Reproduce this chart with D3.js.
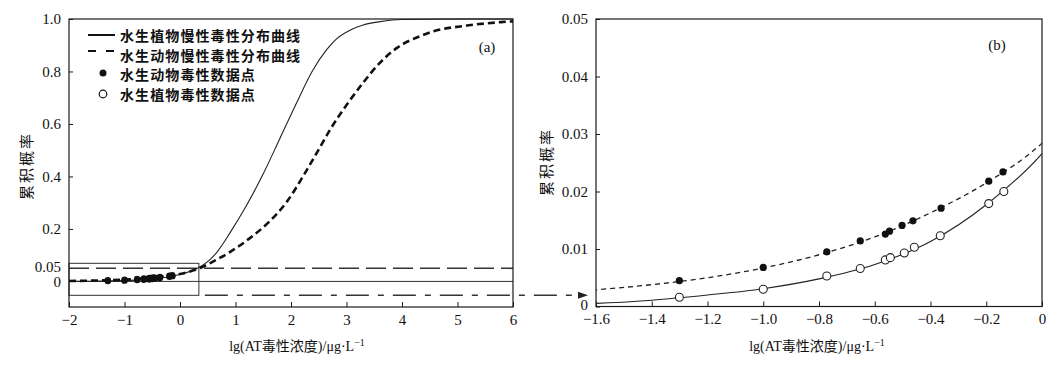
<!DOCTYPE html>
<html><head><meta charset="utf-8">
<script src="https://cdn.jsdelivr.net/npm/d3@7"></script>
<style>
body{margin:0;background:#fff;}
svg{display:block;}
text{fill:#111;}
</style></head>
<body>
<svg id="chart" width="1060" height="370"></svg>
<script>
// ---------- data ----------
const animalCurve = [[-2,0.0015],[-1.6,0.0029],[-1.4,0.0038],[-1.2,0.005],[-1.0,0.0067],[-0.8,0.009],[-0.6,0.0121],[-0.4,0.0163],[-0.2,0.0215],[0,0.0284],[0.36,0.051],[0.6,0.076],[0.9,0.112],[1.26,0.165],[1.62,0.23],[1.93,0.305],[2.23,0.405],[2.47,0.492],[2.71,0.58],[3.01,0.675],[3.31,0.76],[3.61,0.835],[3.91,0.89],[4.33,0.935],[4.57,0.953],[5.17,0.975],[5.78,0.988],[6,0.991]];
const plantCurve = [[-2,0.0002],[-1.6,0.00055],[-1.4,0.0011],[-1.2,0.002],[-1.0,0.0031],[-0.8,0.0048],[-0.6,0.0073],[-0.4,0.0113],[-0.2,0.0177],[0,0.0266],[0.3,0.048],[0.51,0.077],[0.66,0.11],[0.9,0.185],[1.2,0.29],[1.5,0.41],[1.8,0.545],[2.1,0.68],[2.38,0.8],[2.65,0.885],[2.83,0.926],[3.07,0.958],[3.3,0.977],[3.61,0.99],[4.0,0.998],[5,1.0],[6,1.0]];
const animalX = [-1.301,-1.0,-0.772,-0.652,-0.562,-0.547,-0.502,-0.463,-0.362,-0.191,-0.140];
const animalY = [0.0045,0.0068,0.0095,0.0114,0.0126,0.0131,0.0141,0.0149,0.0171,0.0218,0.0234];
const plantX = [-1.301,-1.0,-0.772,-0.652,-0.562,-0.544,-0.494,-0.458,-0.365,-0.191,-0.137];
const plantY = [0.0016,0.0030,0.0053,0.0066,0.0081,0.0085,0.0093,0.0103,0.0123,0.0179,0.0200];
const leftXTicks = [-2,-1,0,1,2,3,4,5,6];
const leftYTicks = [0,0.05,0.2,0.4,0.6,0.8,1.0];
const leftYLabels = ["0","0.05","0.2","0.4","0.6","0.8","1.0"];
const rightXTicks = [-1.6,-1.4,-1.2,-1.0,-0.8,-0.6,-0.4,-0.2,0];
const rightXLabels = ["\u22121.6","\u22121.4","\u22121.2","\u22121.0","\u22120.8","\u22120.6","\u22120.4","\u22120.2","0"];
const rightYTicks = [0,0.01,0.02,0.03,0.04,0.05];
const rightYLabels = ["0","0.01","0.02","0.03","0.04","0.05"];
const legendLabels = ["水生植物慢性毒性分布曲线","水生动物慢性毒性分布曲线","水生动物毒性数据点","水生植物毒性数据点"];
const threshold = 0.05;
const insetBox = {x0:-2, x1:0.34, y0:-0.053, y1:0.069};
const yTitle = "累积概率";

// ---------- setup ----------
const svg = d3.select("#chart");
const serif = "'Liberation Serif','Times New Roman',serif";
const cjk = "'Liberation Serif','Noto Sans CJK SC',serif";
const ink = "#1a1a1a";

const xL = d3.scaleLinear().domain([-2,6]).range([69,513]);
const yL = d3.scaleLinear().domain([-0.0975,1.0]).range([307,19]);
const xR = d3.scaleLinear().domain([-1.6,0]).range([596,1042]);
const yR = d3.scaleLinear().domain([0,0.05]).range([306.5,19]);

const defs = svg.append("defs");
defs.append("clipPath").attr("id","clipL").append("rect")
  .attr("x",xL(-2)).attr("y",yL(1.0)-2).attr("width",xL(6)-xL(-2)).attr("height",yL(-0.0975)-yL(1.0)+2);
defs.append("clipPath").attr("id","clipR").append("rect")
  .attr("x",xR(-1.6)).attr("y",yR(0.05)).attr("width",xR(0)-xR(-1.6)).attr("height",yR(0)-yR(0.05));

function fmtMinus(v){ return v<0 ? "\u2212"+Math.abs(v) : String(v); }

// ---------- Left panel ----------
const gL = svg.append("g");
const axLB = d3.axisBottom(xL).tickValues(leftXTicks).tickSize(-5).tickPadding(7).tickFormat(fmtMinus);
const axLL = d3.axisLeft(yL).tickValues(leftYTicks).tickSize(-4).tickPadding(8).tickFormat((d,i)=>leftYLabels[i]);
const gxl = gL.append("g").attr("transform",`translate(0,${yL(-0.0975)})`).call(axLB);
const gyl = gL.append("g").attr("transform",`translate(${xL(-2)},0)`).call(axLL);
[gxl,gyl].forEach(g=>{
  g.select(".domain").remove();
  g.selectAll("line").attr("stroke",ink);
  g.selectAll("text").attr("font-family",serif).attr("font-size",15).attr("fill","#111");
});
gyl.selectAll(".tick").filter(d=>d===0||d===0.05).select("line").remove();
gyl.selectAll(".tick").filter(d=>d===0.05).select("text").attr("dy","0.22em");
gyl.selectAll(".tick").filter(d=>d===0).select("text").attr("dy","0.36em");

// reference lines
gL.append("line").attr("x1",xL(-2)).attr("x2",xL(6)).attr("y1",yL(threshold)).attr("y2",yL(threshold))
  .attr("stroke","#333").attr("stroke-width",1.6).attr("stroke-dasharray","20,7");
gL.append("line").attr("x1",xL(-2)).attr("x2",xL(6)).attr("y1",yL(0)).attr("y2",yL(0))
  .attr("stroke","#333").attr("stroke-width",1);
// inset box
gL.append("rect").attr("x",xL(insetBox.x0)).attr("y",yL(insetBox.y1))
  .attr("width",xL(insetBox.x1)-xL(insetBox.x0)).attr("height",yL(insetBox.y0)-yL(insetBox.y1))
  .attr("fill","none").attr("stroke","#333").attr("stroke-width",1);
// dash-dot leader to panel b
const leaderY = yL(insetBox.y0);
const arrowEnd = xR(-1.6) - 8;
svg.append("line").attr("x1",xL(insetBox.x1)).attr("x2",arrowEnd-8).attr("y1",leaderY).attr("y2",leaderY)
  .attr("stroke","#333").attr("stroke-width",1.6).attr("stroke-dasharray","0,6,23,9,6,9,23,9,6,9,23,9,6,9,23,9,6,9,23,9,6,9,23,9,6,9,23,9,6,9,23,9,6,9,23,9,6,9,23,9");
svg.append("path").attr("d",`M${arrowEnd-10},${leaderY-3.5} L${arrowEnd},${leaderY} L${arrowEnd-10},${leaderY+3.5} Z`).attr("fill","#222");

// frame
gL.append("rect").attr("x",xL(-2)).attr("y",yL(1.0)).attr("width",xL(6)-xL(-2)).attr("height",yL(-0.0975)-yL(1.0))
  .attr("fill","none").attr("stroke",ink).attr("stroke-width",1.2);

// curves
const lineL = d3.line().x(d=>xL(d[0])).y(d=>yL(d[1])).curve(d3.curveMonotoneX);
const cL = gL.append("g").attr("clip-path","url(#clipL)");
cL.append("path").datum(plantCurve).attr("d",lineL).attr("fill","none").attr("stroke","#222").attr("stroke-width",1.1);
cL.append("path").datum(animalCurve).attr("d",lineL).attr("fill","none").attr("stroke","#111").attr("stroke-width",2.6).attr("stroke-dasharray","7,4");
cL.selectAll("circle.p").data(plantX.map((x,i)=>[x,plantY[i]])).enter().append("circle")
  .attr("cx",d=>xL(d[0])).attr("cy",d=>yL(d[1])).attr("r",3.2).attr("fill","#111");
cL.selectAll("circle.a").data(animalX.map((x,i)=>[x,animalY[i]])).enter().append("circle")
  .attr("cx",d=>xL(d[0])).attr("cy",d=>yL(d[1])).attr("r",3.2).attr("fill","#111");

// legend
const lg = gL.append("g");
const rows = [35,55,74,94];
lg.append("line").attr("x1",88).attr("x2",115).attr("y1",rows[0]).attr("y2",rows[0]).attr("stroke","#111").attr("stroke-width",2);
lg.append("line").attr("x1",88).attr("x2",116).attr("y1",rows[1]-4).attr("y2",rows[1]-4).attr("stroke","#111").attr("stroke-width",2).attr("stroke-dasharray","8,10");
lg.append("circle").attr("cx",103).attr("cy",rows[2]-1).attr("r",3.5).attr("fill","#111");
lg.append("circle").attr("cx",103).attr("cy",rows[3]).attr("r",3.8).attr("fill","#fff").attr("stroke","#111").attr("stroke-width",1.2);
lg.selectAll("text").data(legendLabels).enter().append("text")
  .attr("x",120).attr("y",(d,i)=>rows[i]).attr("dominant-baseline","central")
  .attr("font-family","'Noto Sans CJK SC',sans-serif").attr("font-size",14).attr("font-weight",600)
  .attr("letter-spacing","1.1px").text(d=>d);

gL.append("text").attr("x",487).attr("y",47).attr("text-anchor","middle").attr("dominant-baseline","central")
  .attr("font-family",serif).attr("font-size",15).text("(a)");

// ---------- Right panel ----------
const gR = svg.append("g");
const axRB = d3.axisBottom(xR).tickValues(rightXTicks).tickSize(-5).tickPadding(7).tickFormat((d,i)=>rightXLabels[i]);
const axRL = d3.axisLeft(yR).tickValues(rightYTicks).tickSize(-4).tickPadding(8).tickFormat((d,i)=>rightYLabels[i]);
const gxr = gR.append("g").attr("transform",`translate(0,${yR(0)})`).call(axRB);
const gyr = gR.append("g").attr("transform",`translate(${xR(-1.6)},0)`).call(axRL);
[gxr,gyr].forEach(g=>{
  g.select(".domain").remove();
  g.selectAll("line").attr("stroke",ink);
  g.selectAll("text").attr("font-family",serif).attr("font-size",15).attr("fill","#111");
});
gyr.selectAll(".tick").filter(d=>d===0).select("text").attr("dy","0.2em");

gR.append("rect").attr("x",xR(-1.6)).attr("y",yR(0.05)).attr("width",xR(0)-xR(-1.6)).attr("height",yR(0)-yR(0.05))
  .attr("fill","none").attr("stroke",ink).attr("stroke-width",1.2);

const lineR = d3.line().x(d=>xR(d[0])).y(d=>yR(d[1])).curve(d3.curveMonotoneX);
const cR = gR.append("g").attr("clip-path","url(#clipR)");
cR.append("path").datum(plantCurve).attr("d",lineR).attr("fill","none").attr("stroke","#222").attr("stroke-width",1.1);
cR.append("path").datum(animalCurve).attr("d",lineR).attr("fill","none").attr("stroke","#222").attr("stroke-width",1.3).attr("stroke-dasharray","5,4");
gR.selectAll("circle.a").data(animalX.map((x,i)=>[x,animalY[i]])).enter().append("circle")
  .attr("cx",d=>xR(d[0])).attr("cy",d=>yR(d[1])).attr("r",3.6).attr("fill","#111");
gR.selectAll("circle.p").data(plantX.map((x,i)=>[x,plantY[i]])).enter().append("circle")
  .attr("cx",d=>xR(d[0])).attr("cy",d=>yR(d[1])).attr("r",4).attr("fill","#fff").attr("stroke","#222").attr("stroke-width",1.1);

gR.append("text").attr("x",997).attr("y",45).attr("text-anchor","middle").attr("dominant-baseline","central")
  .attr("font-family",serif).attr("font-size",15).text("(b)");

// ---------- axis titles ----------
function xTitle(cx){
  const t = svg.append("text").attr("x",cx).attr("y",351).attr("text-anchor","middle")
    .attr("font-family",cjk).attr("font-size",14);
  t.append("tspan").text("lg(AT毒性浓度)/μg·L");
  t.append("tspan").attr("dy",-5).attr("font-size",10).text("\u22121");
}
xTitle(297);
xTitle(817);
function yTitleAt(cx, cy){
  svg.append("text").attr("transform",`translate(${cx},${cy}) rotate(-90)`).attr("text-anchor","middle")
    .attr("dominant-baseline","central").attr("font-family","'Noto Sans CJK SC',sans-serif").attr("font-size",15)
    .attr("letter-spacing","2px").text(yTitle);
}
yTitleAt(25, 166);
yTitleAt(545, 162);
</script>
</body></html>
